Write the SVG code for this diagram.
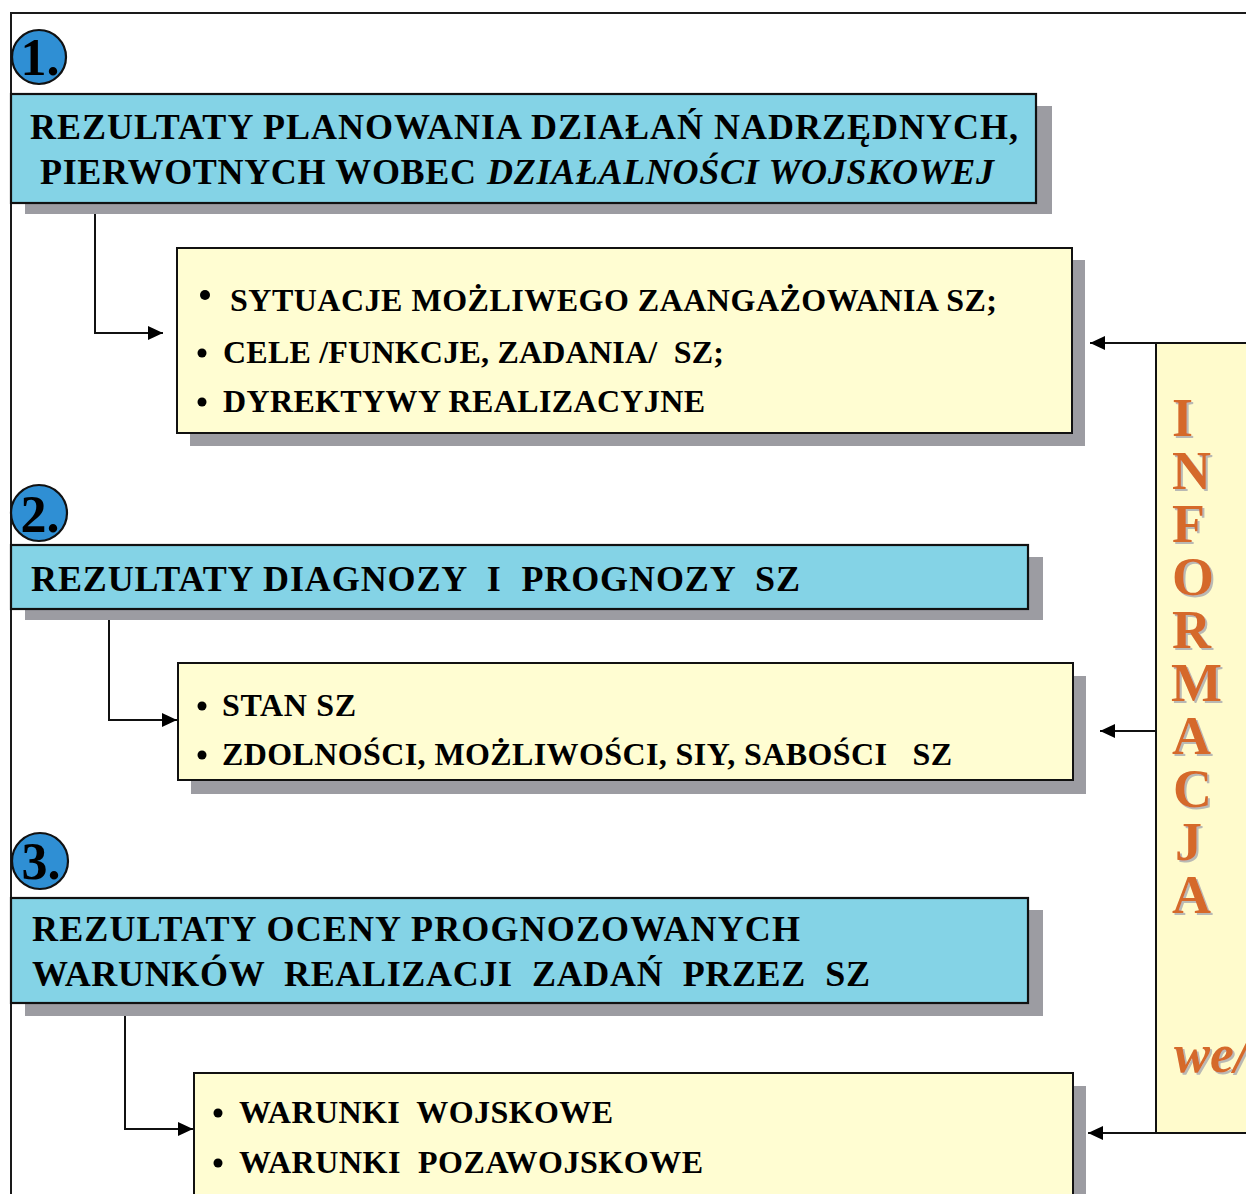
<svg xmlns="http://www.w3.org/2000/svg" width="1246" height="1194" viewBox="0 0 1246 1194">
  <style>
    .frame { fill: none; stroke: #1a1a1a; stroke-width: 2; }
    .shadow { fill: #9c9ca2; }
    .head { fill: #84d3e6; stroke: #111; stroke-width: 2.2; }
    .item { fill: #fffdd2; stroke: #111; stroke-width: 2; }
    .info { fill: #fffbcc; stroke: #111; stroke-width: 2; }
    .badge { fill: #2f8fd4; stroke: #111; stroke-width: 2.2; }
    .num { font-family: "Liberation Serif", "Times New Roman", serif; font-weight: bold; font-size: 52px; fill: #000; text-anchor: middle; }
    .ht { font-family: "Liberation Serif", "Times New Roman", serif; font-weight: bold; font-size: 36px; fill: #000; white-space: pre; }
    .it { font-family: "Liberation Serif", "Times New Roman", serif; font-weight: bold; font-size: 32px; fill: #000; white-space: pre; }
    .ital { font-style: italic; }
    .dot { fill: #000; }
    .vert { font-family: "Liberation Serif", "Times New Roman", serif; font-weight: bold; font-size: 54px; fill: #d5692b; }
    .wire { fill: none; stroke: #111; stroke-width: 2; }
  </style>
  <defs>
    <marker id="arrow" markerUnits="userSpaceOnUse" markerWidth="16" markerHeight="14" refX="15" refY="7" orient="auto">
      <path d="M0,0 L15,7 L0,14 z" fill="#000"/>
    </marker>
    <filter id="soft-shadow" x="-20%" y="-20%" width="140%" height="140%">
      <feDropShadow dx="2" dy="2" stdDeviation="0.6" flood-color="#a8a8ae" flood-opacity="0.8"/>
    </filter>
  </defs>

  <rect width="1246" height="1194" fill="#ffffff"/>

  <!-- outer frame -->
  <path class="frame" d="M11,1194 V13 H1246"/>

  <!-- information strip on the right, word stacked letter by letter -->
  <g id="informacja">
    <rect class="info" x="1156" y="343" width="100" height="790"/>
    <g filter="url(#soft-shadow)">
      <text class="vert" x="1172" y="436"><tspan x="1172" y="436">I</tspan><tspan x="1172" y="489">N</tspan><tspan x="1172" y="542">F</tspan><tspan x="1172" y="595">O</tspan><tspan x="1172" y="648">R</tspan><tspan x="1171" y="701">M</tspan><tspan x="1172" y="754">A</tspan><tspan x="1173" y="807">C</tspan><tspan x="1175" y="860">J</tspan><tspan x="1172" y="913">A</tspan></text>
      <text class="vert ital" x="1174" y="1072">we/</text>
    </g>
  </g>

  <!-- step 1 -->
  <g id="badge1">
    <circle class="badge" cx="39" cy="57" r="27"/>
    <text class="num" x="40" y="75">1.</text>
  </g>
  <g id="head1">
    <rect class="shadow" x="25" y="106" width="1027" height="108"/>
    <rect class="head" x="11" y="94" width="1025" height="109"/>
    <text class="ht" x="30" y="139" textLength="988">REZULTATY PLANOWANIA DZIAŁAŃ NADRZĘDNYCH,</text>
    <text class="ht" x="40" y="184" textLength="436">PIERWOTNYCH WOBEC</text>
    <text class="ht ital" x="487" y="184" textLength="507">DZIAŁALNOŚCI WOJSKOWEJ</text>
  </g>
  <g id="items1">
    <rect class="shadow" x="190" y="260" width="895" height="186"/>
    <rect class="item" x="177" y="248" width="895" height="185"/>
    <circle class="dot" cx="205" cy="295" r="5"/>
    <text class="it" x="230" y="311" textLength="767">SYTUACJE MOŻLIWEGO ZAANGAŻOWANIA SZ;</text>
    <circle class="dot" cx="202" cy="353" r="4.5"/>
    <text class="it" x="223" y="363" textLength="501">CELE /FUNKCJE, ZADANIA/  SZ;</text>
    <circle class="dot" cx="202" cy="402" r="4.5"/>
    <text class="it" x="223" y="412" textLength="482">DYREKTYWY REALIZACYJNE</text>
  </g>

  <!-- step 2 -->
  <g id="badge2">
    <circle class="badge" cx="39" cy="513" r="28"/>
    <text class="num" x="40" y="532">2.</text>
  </g>
  <g id="head2">
    <rect class="shadow" x="25" y="557" width="1018" height="63"/>
    <rect class="head" x="11" y="545" width="1017" height="64"/>
    <text class="ht" x="31" y="591" textLength="769">REZULTATY DIAGNOZY  I  PROGNOZY  SZ</text>
  </g>
  <g id="items2">
    <rect class="shadow" x="191" y="676" width="895" height="118"/>
    <rect class="item" x="178" y="663" width="895" height="117"/>
    <circle class="dot" cx="202" cy="706" r="4.5"/>
    <text class="it" x="222" y="716" textLength="134">STAN SZ</text>
    <circle class="dot" cx="202" cy="755" r="4.5"/>
    <text class="it" x="222" y="765" textLength="730">ZDOLNOŚCI, MOŻLIWOŚCI, SIY, SABOŚCI   SZ</text>
  </g>

  <!-- step 3 -->
  <g id="badge3">
    <circle class="badge" cx="40" cy="861" r="28"/>
    <text class="num" x="41" y="879">3.</text>
  </g>
  <g id="head3">
    <rect class="shadow" x="25" y="910" width="1018" height="106"/>
    <rect class="head" x="11" y="898" width="1017" height="105"/>
    <text class="ht" x="32" y="941" textLength="768">REZULTATY OCENY PROGNOZOWANYCH</text>
    <text class="ht" x="32" y="986" textLength="838">WARUNKÓW  REALIZACJI  ZADAŃ  PRZEZ  SZ</text>
  </g>
  <g id="items3">
    <rect class="shadow" x="207" y="1086" width="879" height="120"/>
    <rect class="item" x="194" y="1073" width="879" height="130"/>
    <circle class="dot" cx="218" cy="1113" r="4.5"/>
    <text class="it" x="239" y="1123" textLength="374">WARUNKI  WOJSKOWE</text>
    <circle class="dot" cx="218" cy="1163" r="4.5"/>
    <text class="it" x="239" y="1173" textLength="464">WARUNKI  POZAWOJSKOWE</text>
  </g>

  <!-- connectors -->
  <g id="connectors">
    <path class="wire" d="M95,214 V333 H163" marker-end="url(#arrow)"/>
    <path class="wire" d="M109,620 V720 H177" marker-end="url(#arrow)"/>
    <path class="wire" d="M125,1016 V1129 H193" marker-end="url(#arrow)"/>
    <path class="wire" d="M1246,343 H1090" marker-end="url(#arrow)"/>
    <path class="wire" d="M1156,731 H1100" marker-end="url(#arrow)"/>
    <path class="wire" d="M1246,1133 H1088" marker-end="url(#arrow)"/>
  </g>
</svg>
